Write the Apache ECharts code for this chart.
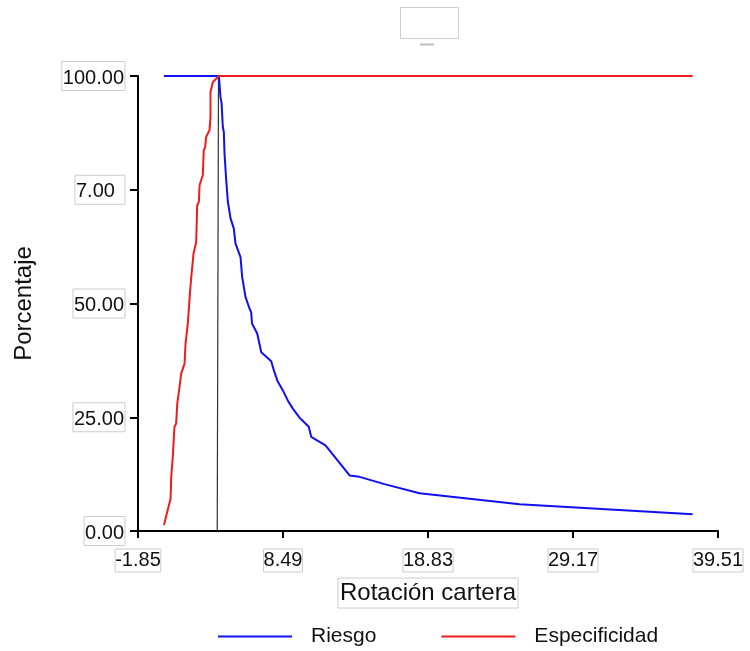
<!DOCTYPE html>
<html>
<head>
<meta charset="utf-8">
<script src="https://cdn.jsdelivr.net/npm/echarts@6/dist/echarts.min.js"></script>
<style>
html,body{margin:0;padding:0;background:#fff;}
#chart{width:750px;height:651px;}
</style>
</head>
<body>
<div id="chart"></div>
<script>
// ---- data ----
const seriesNames = ['Riesgo', 'Especificidad'];
const riesgoX = [0.00, 3.92, 4.03, 4.11, 4.20, 4.27, 4.32, 4.44, 4.56, 4.75, 4.98, 5.10, 5.46, 5.58, 5.82, 6.10, 6.22, 6.28, 6.65, 6.94, 7.65, 7.84, 8.08, 8.48, 8.83, 9.19, 9.67, 10.33, 10.50, 11.52, 13.24, 13.95, 15.73, 18.23, 25.36, 37.70];
const riesgoY = [100, 100, 95.4, 94.0, 88.8, 87.7, 83.0, 77.1, 72.3, 68.7, 66.5, 63.2, 60.2, 55.8, 51.4, 48.9, 48.1, 45.6, 43.4, 39.3, 37.3, 35.3, 33.1, 30.9, 28.7, 26.9, 24.9, 22.9, 20.7, 18.8, 12.2, 11.9, 10.3, 8.3, 5.9, 3.7];
const especX = [0.00, 0.47, 0.52, 0.63, 0.75, 0.87, 0.95, 1.11, 1.23, 1.47, 1.54, 1.70, 1.82, 1.87, 1.94, 2.11, 2.30, 2.37, 2.49, 2.54, 2.77, 2.84, 2.94, 3.01, 3.25, 3.32, 3.32, 3.49, 3.73, 3.92, 37.70];
const especY = [1.3, 7.1, 11.9, 16.3, 22.9, 23.6, 28.0, 31.6, 34.6, 36.8, 41.2, 45.6, 45.9, 52.9, 55.5, 61.0, 63.5, 71.6, 72.3, 76.0, 78.2, 83.7, 84.4, 86.6, 88.1, 91.0, 96.5, 98.7, 99.4, 100, 100];
const cutX = [3.89, 3.80];
const cutY = [100, 0];
const xTickValues = [-1.85, 8.49, 18.83, 29.17, 39.51];
const xTickLabels = ['-1.85', '8.49', '18.83', '29.17', '39.51'];
const yTickValues = [0, 25, 50, 75, 100];
const yTickLabels = ['0.00', '25.00', '50.00', '7.00', '100.00'];
const xAxisName = 'Rotación cartera';
const yAxisName = 'Porcentaje';

const zip = (xs, ys) => xs.map((x, i) => [x, ys[i]]);
const FONT = "'Liberation Sans', Arial, sans-serif";

const chart = echarts.init(document.getElementById('chart'), null, {renderer: 'canvas'});
chart.setOption({
  animation: false,
  backgroundColor: '#ffffff',
  graphic: [
    {type: 'rect', shape: {x: 400.5, y: 7.5, width: 58, height: 31}, style: {fill: '#fff', stroke: '#cfcfcf', lineWidth: 1}},
    {type: 'line', shape: {x1: 420, y1: 44.5, x2: 434, y2: 44.5}, style: {stroke: '#bdbdbd', lineWidth: 2}}
  ],
  grid: {left: 138, right: 32, top: 76, bottom: 120, containLabel: false},
  legend: {
    data: seriesNames,
    left: 213,
    top: 621,
    icon: 'rect',
    itemWidth: 74,
    itemHeight: 2,
    itemGap: 65,
    textStyle: {fontFamily: FONT, fontSize: 21, color: '#111', padding: [0, 0, 0, 14]}
  },
  xAxis: {
    type: 'value',
    min: -1.85,
    max: 39.51,
    name: xAxisName,
    nameLocation: 'middle',
    nameGap: 47,
    nameTextStyle: {fontFamily: FONT, fontSize: 24, color: '#111', borderColor: '#cccccc', borderWidth: 1, padding: [1, 2, 1, 2], lineHeight: 28},
    axisLine: {show: true, onZero: false, lineStyle: {color: '#000', width: 2}},
    axisTick: {show: true, length: 7, lineStyle: {color: '#000', width: 2}, customValues: xTickValues},
    splitLine: {show: false},
    axisLabel: {
      customValues: xTickValues,
      margin: 18,
      fontFamily: FONT, fontSize: 20, color: '#111',
      borderColor: '#cccccc', borderWidth: 1, padding: [0, 0, 0, 0], lineHeight: 23,
      formatter: (v) => {
        const i = xTickValues.findIndex(t => Math.abs(t - v) < 1e-6);
        return i >= 0 ? xTickLabels[i] : '';
      }
    }
  },
  yAxis: {
    type: 'value',
    min: 0,
    max: 100,
    interval: 25,
    name: yAxisName,
    nameLocation: 'middle',
    nameRotate: 90,
    nameGap: 102,
    nameTextStyle: {fontFamily: FONT, fontSize: 24, color: '#111'},
    axisLine: {show: true, onZero: false, lineStyle: {color: '#000', width: 2}},
    axisTick: {show: true, length: 8, lineStyle: {color: '#000', width: 2}},
    splitLine: {show: false},
    axisLabel: {
      margin: 13,
      fontFamily: FONT, fontSize: 20, color: '#111',
      borderColor: '#cccccc', borderWidth: 1, padding: [5, 1, 1, 1], lineHeight: 23,
      formatter: (v) => {
        const i = yTickValues.indexOf(v);
        const s = i >= 0 ? yTickLabels[i] : '';
        return s === '7.00' ? '{w|' + s + '}' : s;
      },
      rich: {w: {width: 48, align: 'left', fontFamily: FONT, fontSize: 20, color: '#111', lineHeight: 23}}
    }
  },
  series: [
    {
      name: seriesNames[0], type: 'line', data: zip(riesgoX, riesgoY),
      showSymbol: false, symbol: 'none', color: '#1010f0',
      lineStyle: {width: 2, color: '#1010f0'}, z: 3
    },
    {
      name: seriesNames[1], type: 'line', data: zip(especX, especY),
      showSymbol: false, symbol: 'none', color: '#ee1c1c',
      lineStyle: {width: 2, color: '#ee1c1c'}, z: 4
    },
    {
      name: 'corte', type: 'line', data: zip(cutX, cutY),
      showSymbol: false, symbol: 'none', color: '#333',
      lineStyle: {width: 1.2, color: '#333'}, z: 2
    }
  ]
});
</script>
</body>
</html>
